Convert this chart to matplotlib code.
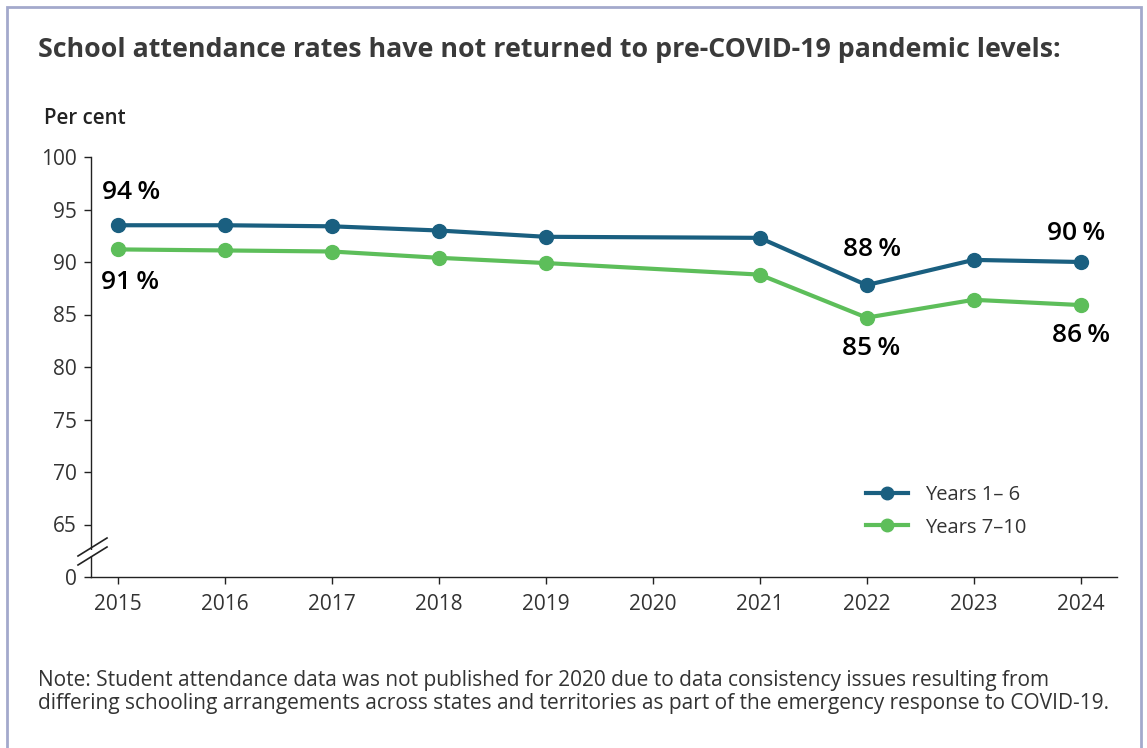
import numpy as np
import matplotlib.pyplot as plt
from matplotlib.patches import Rectangle
from matplotlib.lines import Line2D

plt.rcParams['font.family'] = ['Open Sans', 'DejaVu Sans']

# school attendance, per cent (no data published for 2020)
years = [2015, 2016, 2017, 2018, 2019, 2021, 2022, 2023, 2024]
years_1_6 = [93.5, 93.5, 93.4, 93.0, 92.4, 92.3, 87.8, 90.2, 90.0]
years_7_10 = [91.2, 91.1, 91.0, 90.4, 89.9, 88.8, 84.7, 86.4, 85.9]
tick_years = list(range(2015, 2025))
ytick_vals = [65, 70, 75, 80, 85, 90, 95, 100]

# labelled points: (year, value, label, x shift in px, y shift in px)
labels_1_6 = [(2015, 93.5, '94\u2009%', 13, 33), (2022, 87.8, '88\u2009%', 5, 36),
              (2024, 90.0, '90\u2009%', -4, 29)]
labels_7_10 = [(2015, 91.2, '91\u2009%', 12, -33), (2022, 84.7, '85\u2009%', 4, -31),
               (2024, 85.9, '86\u2009%', 0, -30)]

blue = '#1a5f80'
green = '#5dbe5a'
text_col = '#333333'

W, H = 1147, 748
fig = plt.figure(figsize=(W / 100, H / 100), dpi=100)

# frame around the panel
fig.patches.append(Rectangle((7 / W, -0.01), (1141 - 7) / W, (H - 7) / H + 0.01,
                             transform=fig.transFigure, fill=False,
                             edgecolor='#a3a9cc', linewidth=2))

fig.text(38 / W, 1 - 50 / H, 'School attendance rates have not returned to pre-COVID-19 pandemic levels:',
         fontsize=19.3, fontweight='bold', color='#3a3a3a', va='center', ha='left')
fig.text(44 / W, 1 - 118 / H, 'Per cent', fontsize=14.8, fontweight='semibold',
         color='#222222', va='center', ha='left')

ax = fig.add_axes([91 / W, 1 - 577 / H, (1117 - 91) / W, (577 - 157) / H])

# axis is broken between 0 and 65: the 0 tick sits at 60
base = 60
ax.plot(years, years_1_6, color=blue, lw=3, marker='o', ms=10, solid_capstyle='round')
ax.plot(years, years_7_10, color=green, lw=3, marker='o', ms=10, solid_capstyle='round')

for x, v, s, dx, dy in labels_1_6 + labels_7_10:
    ax.annotate(s, (x, v), xytext=(dx * 0.72, dy * 0.72), textcoords='offset points',
                ha='center', va='center', fontsize=19, fontweight='semibold', color='black')

ax.set_xlim(2014.75, 2024.34)
ax.set_ylim(base, 100)
ax.set_xticks(tick_years)
ax.set_xticklabels([str(y) for y in tick_years])
ax.set_yticks([base] + ytick_vals)
ax.set_yticklabels(['0'] + [str(v) for v in ytick_vals])
ax.tick_params(axis='both', labelsize=15, labelcolor=text_col, color='#222222',
               length=5, width=1)
ax.tick_params(axis='x', pad=7)
ax.tick_params(axis='y', pad=5)
for side in ['top', 'right']:
    ax.spines[side].set_visible(False)
for side in ['left', 'bottom']:
    ax.spines[side].set_color('#222222')
    ax.spines[side].set_linewidth(1)

# break marks on the y axis
fig.add_artist(Rectangle((86 / W, 1 - 556 / H), 10 / W, 6 / H, transform=fig.transFigure,
                         facecolor='white', edgecolor='none', zorder=5))
for dy in [0, 9]:
    y0 = 565 - dy
    fig.add_artist(Line2D([78 / W, 107 / W], [1 - y0 / H, 1 - (y0 - 18) / H],
                          transform=fig.transFigure, color='#222222', lw=1.2, zorder=6))

handles = [Line2D([], [], color=blue, lw=3, marker='o', ms=9),
           Line2D([], [], color=green, lw=3, marker='o', ms=9)]
ax.legend(handles, ['Years 1\u2013 6', 'Years 7\u201310'], loc='upper left',
          bbox_to_anchor=(767 / (1117 - 91), 1 - (477 - 157) / (577 - 157)),
          frameon=False, fontsize=14.5, handlelength=2.1, handletextpad=0.85,
          labelspacing=0.62, labelcolor=text_col, borderaxespad=0)

fig.text(38 / W, 1 - 692 / H,
         'Note: Student attendance data was not published for 2020 due to data consistency issues resulting from\n'
         'differing schooling arrangements across states and territories as part of the emergency response to COVID-19.',
         fontsize=15, color=text_col, va='center', ha='left', linespacing=1.08)

fig.savefig('out.png', dpi=100)
